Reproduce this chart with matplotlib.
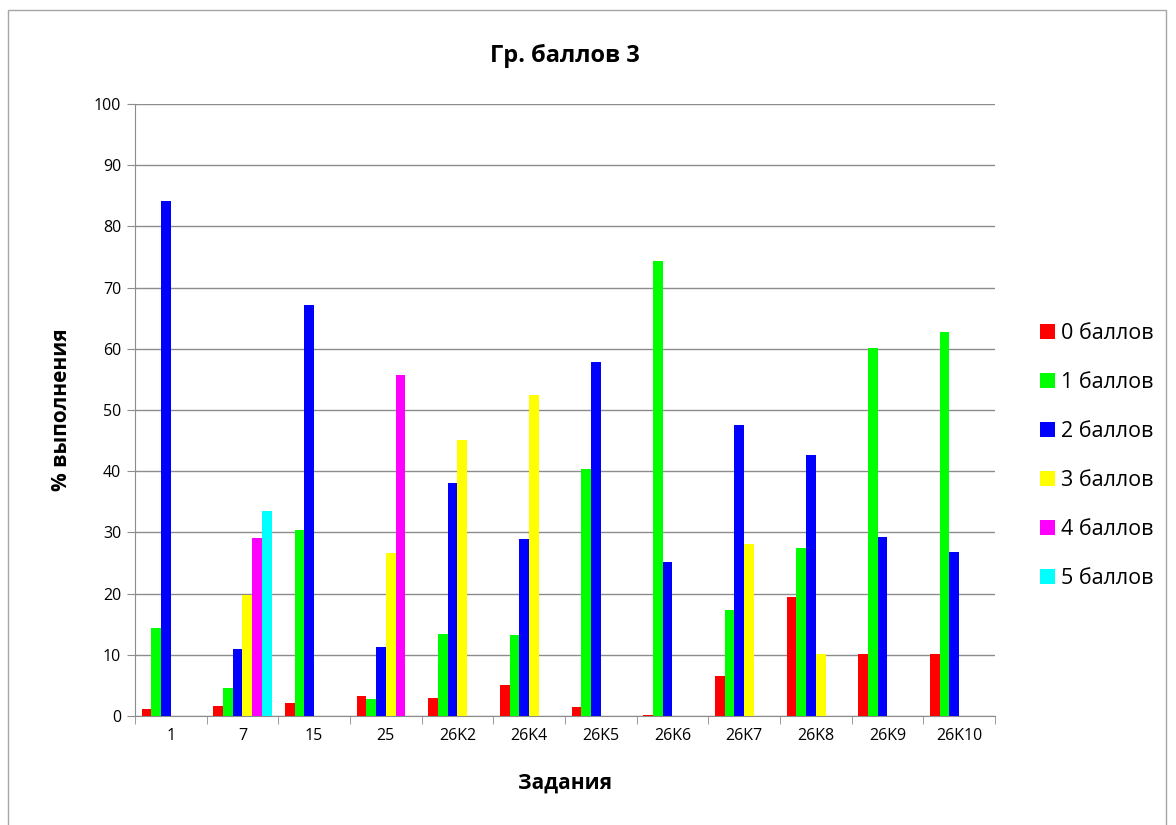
import matplotlib.pyplot as plt
import numpy as np
from matplotlib.patches import Rectangle

plt.rcParams['font.family'] = ['Open Sans', 'DejaVu Sans']

# данные
tasks = ['1', '7', '15', '25', '26K2', '26K4', '26K5', '26K6', '26K7', '26K8', '26K9', '26K10']
series_names = ['0 баллов', '1 баллов', '2 баллов', '3 баллов', '4 баллов', '5 баллов']
colors = ['#ff0000', '#00ff00', '#0000ff', '#ffff00', '#ff00ff', '#00ffff']

ball0 = [1.2, 1.6, 2.1, 3.2, 3.0, 5.1, 1.5, 0.2, 6.5, 19.4, 10.2, 10.2]
ball1 = [14.3, 4.5, 30.4, 2.7, 13.4, 13.2, 40.4, 74.4, 17.3, 27.5, 60.1, 62.8]
ball2 = [84.2, 11.0, 67.2, 11.2, 38.0, 28.9, 57.9, 25.2, 47.6, 42.6, 29.3, 26.8]
ball3 = [0, 19.7, 0, 26.7, 45.1, 52.5, 0, 0, 28.1, 10.1, 0, 0]
ball4 = [0, 29.1, 0, 55.8, 0, 0, 0, 0, 0, 0, 0, 0]
ball5 = [0, 33.5, 0, 0, 0, 0, 0, 0, 0, 0, 0, 0]
values = [ball0, ball1, ball2, ball3, ball4, ball5]

fig = plt.figure(figsize=(11.76, 8.25), dpi=100)
ax = fig.add_axes([135/1176, 1-716/825, (995-135)/1176, (716-104)/825])

# рамка диаграммы
fig.patches.append(Rectangle((8/1176, -0.01), 1158/1176, 1-10/825+0.01,
                             transform=fig.transFigure, fill=False,
                             edgecolor='#a6a6a6', linewidth=1))

x = np.arange(len(tasks))
w = 0.135
for i, (vals, c, name) in enumerate(zip(values, colors, series_names)):
    ax.bar(x + (i - 2.5) * w, vals, width=w, color=c, label=name, zorder=3)

ax.set_xlim(-0.5, len(tasks) - 0.5)
ax.set_ylim(0, 100)
ax.set_yticks(np.arange(0, 101, 10))
ax.yaxis.grid(True, color='#8c8c8c', linewidth=1, zorder=0)
ax.set_xticks(x)
ax.set_xticklabels(tasks)
ax.set_xticks(np.arange(-0.5, len(tasks), 1), minor=True)
ax.tick_params(axis='x', which='major', length=0, labelsize=11.5, pad=9)
ax.tick_params(axis='x', which='minor', length=6, color='#8c8c8c')
ax.tick_params(axis='y', length=6, color='#8c8c8c', labelsize=11.5, pad=4)

for s in ['top', 'right']:
    ax.spines[s].set_visible(False)
for s in ['left', 'bottom']:
    ax.spines[s].set_color('#8c8c8c')

ax.set_title('Гр. баллов 3', fontsize=17, fontweight='bold', pad=30)
ax.set_xlabel('Задания', fontsize=15, fontweight='bold', labelpad=20)
ax.set_ylabel('% выполнения', fontsize=15, fontweight='bold', labelpad=16)

ax.legend(loc='center left', bbox_to_anchor=(1 + 36/860, 0.425), frameon=False,
          borderaxespad=0, fontsize=15.5, handlelength=0.7, handleheight=0.7,
          handletextpad=0.3, labelspacing=1.3)

fig.savefig('out.png', dpi=100)
